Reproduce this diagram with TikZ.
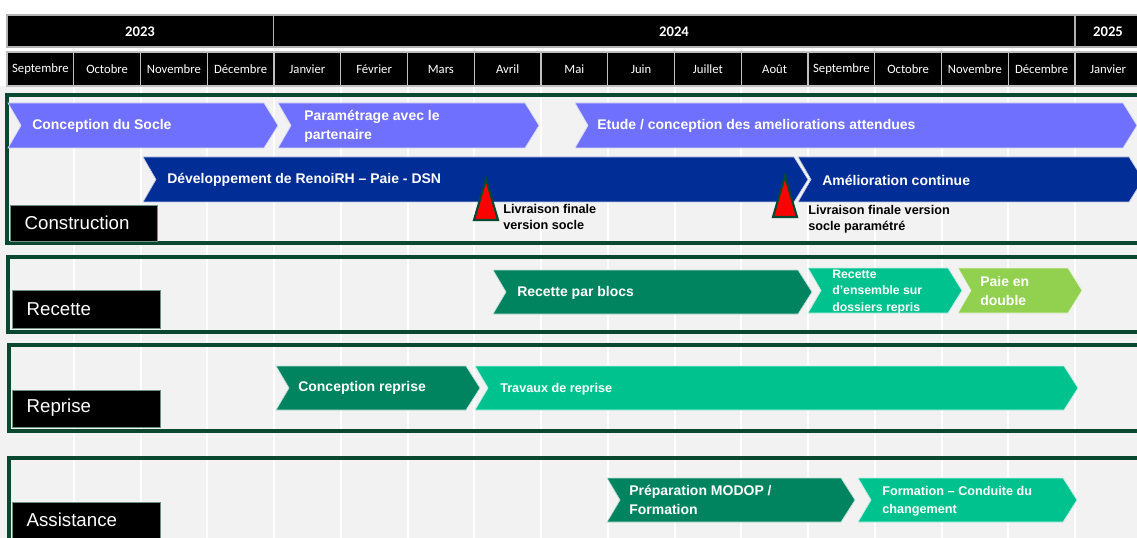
\documentclass[tikz,border=0pt]{standalone}
\usepackage{fontspec}
\setmainfont{Liberation Sans}
\newfontfamily\calibri{Carlito}
\usetikzlibrary{positioning,calc}

\definecolor{bggray}{HTML}{F2F2F2}
\definecolor{panelgreen}{RGB}{10,72,50}
\definecolor{lilac}{HTML}{7070FF}
\definecolor{navyblue}{HTML}{002D96}
\definecolor{darkgreen}{HTML}{00845F}
\definecolor{midgreen}{HTML}{00C28F}
\definecolor{lightgreen}{HTML}{92D050}

\begin{document}
\begin{tikzpicture}[
    x=0.75pt, y=-0.75pt,
    yearcell/.style={fill=black, draw=gray!60, line width=0.8pt},
    monthcell/.style={fill=black, draw=gray!50, line width=0.8pt},
    yeartext/.style={text=white, font=\calibri\bfseries\fontsize{11}{13}\selectfont},
    monthtext/.style={text=white, font=\calibri\fontsize{9.5}{11}\selectfont},
    panel/.style={draw=panelgreen, line width=2.3pt},
    lanebox/.style={fill=black, draw=panelgreen!60, line width=0.5pt},
    lanetext/.style={text=white, anchor=west, font=\fontsize{14}{16}\selectfont},
    chevtext/.style={text=white, anchor=west, align=left, inner sep=0pt, font=\bfseries\fontsize{10.5}{14}\selectfont},
    smalltext/.style={chevtext, font=\bfseries\fontsize{9.2}{12.4}\selectfont},
    milestone/.style={fill=red, draw=panelgreen, line width=1.6pt, line join=miter},
    mstext/.style={anchor=north west, align=left, inner sep=0pt, font=\bfseries\fontsize{9.5}{12}\selectfont}
]
\useasboundingbox (0,0) rectangle (1137,538);

% background and month grid
\fill[white] (0,0) rectangle (1137,538);
\fill[bggray] (0,86) rectangle (1137,538);
\foreach \k in {1,...,16}
  \draw[white, line width=1.5pt] ({7+\k*66.75},86) -- ({7+\k*66.75},538);

% years
\draw[yearcell] (7,15) rectangle (273.5,47);
\draw[yearcell] (273.5,15) rectangle (1075,47);
\draw[yearcell] (1075,15) rectangle (1145,47);
\node[yeartext] (y2023) at (140,32) {2023};
\node[yeartext] (y2024) at (674,32) {2024};
\node[yeartext] (y2025) at (1108,32) {2025};

% months
\foreach \m [count=\k from 0] in {Septembre,Octobre,Novembre,Décembre,Janvier,Février,Mars,Avril,Mai,Juin,Juillet,Août,Septembre,Octobre,Novembre,Décembre}{
  \draw[monthcell] ({7+\k*66.75},52) rectangle ({7+(\k+1)*66.75},86);
  \node[monthtext] (m\k) at ({7+(\k+0.5)*66.75},69) {\m};
}
\draw[monthcell] (1075,52) rectangle (1145,86);
\node[monthtext] (m16) at (1108,69) {Janvier};

% lanes
\draw[panel] (7,95) rectangle (1145,243);
\draw[panel] (8,257) rectangle (1145,332);
\draw[panel] (9,345) rectangle (1145,431);
\draw[panel] (9,458) rectangle (1145,550);

\draw[lanebox] (10,205) rectangle (157,241);
\node[lanetext] (construction) at (20,223) {Construction};
\draw[lanebox] (12,290) rectangle (160,328);
\node[lanetext] (recette) at (22,309) {Recette};
\draw[lanebox] (12,390) rectangle (160,427);
\node[lanetext] (reprise) at (22,408) {Reprise};
\draw[lanebox] (12,502) rectangle (160,545);
\node[lanetext] (assistance) at (22,520) {Assistance};

% chevrons: left x / tip x / top y / bottom y / colour
\foreach \xa/\xb/\ya/\yb/\col in {
    8/278/103/148/lilac, 278/539/103/148/lilac, 575/1137/103/148/lilac,
    143/808/157/202/navyblue, 798/1143/157/202/navyblue,
    493/812/270/314/darkgreen, 808/962/268/313/midgreen, 958/1082/268/313/lightgreen,
    276/480/366/410/darkgreen, 475/1078/366/410/midgreen,
    607/855/478/522/darkgreen, 858/1077/478/522/midgreen}
  \filldraw[fill=\col, draw=white!75!\col, line width=0.5pt]
    (\xa,\ya) -- ({\xb-14},\ya) -- (\xb,{(\ya+\yb)/2}) -- ({\xb-14},\yb)
    -- (\xa,\yb) -- ({\xa+13},{(\ya+\yb)/2}) -- cycle;

\node[chevtext] (socle) at (32,126) {Conception du Socle};
\node[chevtext] (param) at (304,126) {Paramétrage avec le\\partenaire};
\node[chevtext] (etude) at (597,126) {Etude / conception des ameliorations attendues};
\node[chevtext] (dev) at (167,180) {Développement de RenoiRH – Paie - DSN};
\node[chevtext] (amelio) at (822,180) {Amélioration continue};
\node[chevtext] (blocs) at (517,293) {Recette par blocs};
\node[smalltext] (ensemble) at (832,292) {Recette\\d’ensemble sur\\dossiers repris};
\node[chevtext] (double) at (980,291) {Paie en\\double};
\node[chevtext] (concrep) at (298,388) {Conception reprise};
\node[smalltext, font=\bfseries\fontsize{9.5}{11}\selectfont] (travaux) at (500,389) {Travaux de reprise};
\node[chevtext] (modop) at (629,500) {Préparation MODOP /\\Formation};
\node[smalltext, font=\bfseries\fontsize{9.5}{13.5}\selectfont] (conduite) at (882,501) {Formation – Conduite du\\changement};

% milestones
\draw[milestone] (486,179) -- (498,220) -- (474,220) -- cycle;
\node[mstext] (livr1) at (503,204) {Livraison finale\\version socle};
\draw[milestone] (785,176) -- (797,217) -- (773,217) -- cycle;
\node[mstext] (livr2) at (808,205) {Livraison finale version\\socle paramétré};
\end{tikzpicture}
\end{document}
